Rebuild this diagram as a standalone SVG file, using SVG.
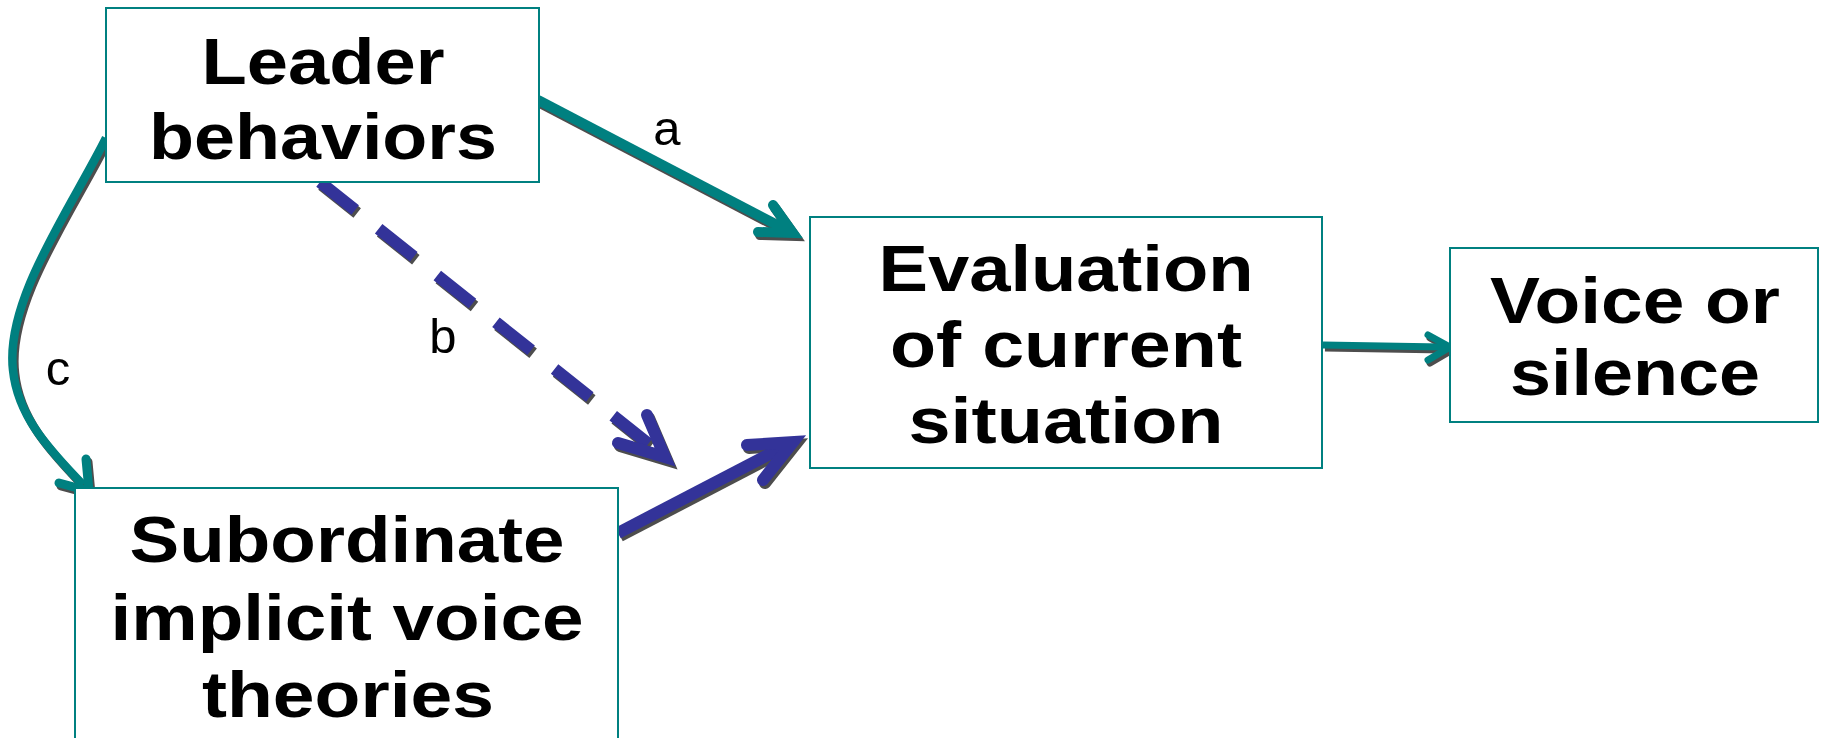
<svg xmlns="http://www.w3.org/2000/svg" width="1821" height="738" viewBox="0 0 1821 738">
<style>
.box{fill:#fff;stroke:#008080;stroke-width:2}
.t{font-family:"Liberation Sans",Arial,sans-serif;font-weight:bold;font-size:64px;fill:#000;text-anchor:middle}
.lbl{font-family:"Liberation Sans",Arial,sans-serif;font-size:49px;fill:#000;text-anchor:middle}
.teal{stroke:#008080}
.blue{stroke:#333399}
.sh{stroke:#4d4d4d}
.shaft{fill:none;stroke-linecap:butt}
.head{fill:none;stroke-linecap:round;stroke-linejoin:miter;stroke-miterlimit:10}
</style>
<rect width="1821" height="738" fill="#fff"/>
<g id="connectors">
  <g id="shadows" transform="translate(2,3)">
    <path class="shaft sh" stroke-width="10" d="M538,100 L783,228"/>
    <path class="head sh" stroke-width="10" d="M758,232 L793,233 L773,205"/>
    <path class="shaft sh" stroke-width="8.5" d="M106,138 C70,210 5,300 13,370 C18,420 55,455 83,485"/>
    <path class="head sh" stroke-width="9" d="M59,483 L89,491 L86,459"/>
    <path class="shaft sh" stroke-width="12" stroke-dasharray="45 30" d="M320,182 L665,457"/>
    <path class="head sh" stroke-width="12" d="M618,443 L665,457 L647,415"/>
    <path class="shaft sh" stroke-width="12" d="M618,533 L783,447"/>
    <path class="head sh" stroke-width="12" d="M747,445 L793,442 L763,480"/>
    <path class="shaft sh" stroke-width="7" d="M1323,345 L1443,347"/>
    <path class="head sh" stroke-width="7" d="M1428,335 L1450,347 L1428,360"/>
  </g>
  <g id="arrow-a">
    <path class="shaft teal" stroke-width="10" d="M538,100 L783,228"/>
    <path class="head teal" stroke-width="10" d="M758,232 L793,233 L773,205"/>
  </g>
  <g id="arrow-c">
    <path class="shaft teal" stroke-width="8.5" d="M106,138 C70,210 5,300 13,370 C18,420 55,455 83,485"/>
    <path class="head teal" stroke-width="9" d="M59,483 L89,491 L86,459"/>
  </g>
  <g id="arrow-b">
    <path class="shaft blue" stroke-width="12" stroke-dasharray="45 30" d="M320,182 L665,457"/>
    <path class="head blue" stroke-width="12" d="M618,443 L665,457 L647,415"/>
  </g>
  <g id="arrow-sub-eval">
    <path class="shaft blue" stroke-width="12" d="M618,533 L783,447"/>
    <path class="head blue" stroke-width="12" d="M747,445 L793,442 L763,480"/>
  </g>
  <g id="arrow-eval-voice">
    <path class="shaft teal" stroke-width="7" d="M1323,345 L1443,347"/>
    <path class="head teal" stroke-width="7" d="M1428,335 L1450,347 L1428,360"/>
  </g>
</g>
<g id="label-a"><text class="lbl" x="667" y="145">a</text></g>
<g id="label-b"><text class="lbl" x="443" y="353">b</text></g>
<g id="label-c"><text class="lbl" x="58" y="385">c</text></g>
<g id="leader">
  <rect class="box" x="106" y="8" width="433" height="174"/>
  <text class="t" x="323" y="84" textLength="243" lengthAdjust="spacingAndGlyphs">Leader</text>
  <text class="t" x="323" y="159" textLength="348" lengthAdjust="spacingAndGlyphs">behaviors</text>
</g>
<g id="evaluation">
  <rect class="box" x="810" y="217" width="512" height="251"/>
  <text class="t" x="1066" y="291" textLength="375" lengthAdjust="spacingAndGlyphs">Evaluation</text>
  <text class="t" x="1066" y="367" textLength="352" lengthAdjust="spacingAndGlyphs">of current</text>
  <text class="t" x="1066" y="443" textLength="315" lengthAdjust="spacingAndGlyphs">situation</text>
</g>
<g id="voice">
  <rect class="box" x="1450" y="248" width="368" height="174"/>
  <text class="t" x="1635" y="323" textLength="290" lengthAdjust="spacingAndGlyphs">Voice or</text>
  <text class="t" x="1635" y="395" textLength="250" lengthAdjust="spacingAndGlyphs">silence</text>
</g>
<g id="subordinate">
  <rect class="box" x="75" y="488" width="543" height="260"/>
  <text class="t" x="347" y="562" textLength="435" lengthAdjust="spacingAndGlyphs">Subordinate</text>
  <text class="t" x="347" y="640" textLength="473" lengthAdjust="spacingAndGlyphs">implicit voice</text>
  <text class="t" x="348" y="717" textLength="292" lengthAdjust="spacingAndGlyphs">theories</text>
</g>
</svg>
